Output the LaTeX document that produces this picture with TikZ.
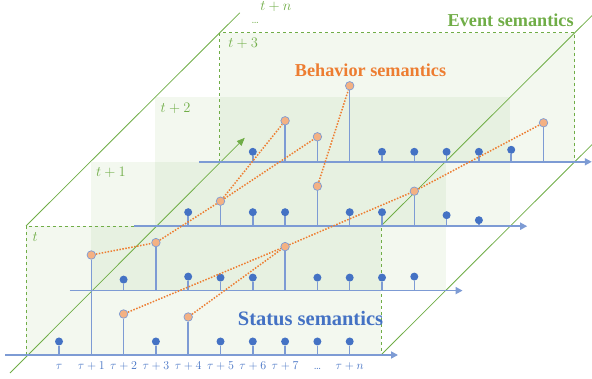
\RequirePackage{fix-cm}
\documentclass[tikz,border=0pt]{standalone}
\usepackage{amsmath,amssymb}
\usepackage{fontspec}
\newfontfamily\semfont{Liberation Serif}
\usetikzlibrary{positioning,arrows.meta,calc}
\definecolor{evgreen}{RGB}{112,173,71}
\definecolor{stblue}{RGB}{68,114,196}
\definecolor{axblue}{RGB}{125,155,212}
\definecolor{bhorange}{RGB}{237,125,49}
\definecolor{bhfill}{RGB}{244,177,131}
\tikzset{
  >=Stealth,
}

\begin{document}
\begin{tikzpicture}[
  x=1pt,y=-1pt,
  plane/.style={fill=evgreen, fill opacity=0.085},
  frame/.style={draw=evgreen, dashed, line width=0.8pt},
  slant/.style={draw=evgreen, line width=0.8pt},
  axis/.style={draw=axblue, line width=1.7pt, -{Triangle[length=7pt,width=7pt]}},
  stem/.style={draw=axblue, line width=1.5pt},
  bdot/.style={circle, fill=stblue, inner sep=0pt, minimum size=8pt},
  odot/.style={circle, fill=bhfill, draw=axblue, line width=0.7pt, inner sep=0pt, minimum size=8.5pt},
  link/.style={draw=bhorange, line width=1.5pt, dash pattern=on 1.5pt off 1.5pt},
  lay/.style={text=evgreen, font=\fontsize{14.5}{17}\selectfont, anchor=west},
  tick/.style={text=stblue, font=\fontsize{12}{14}\selectfont, anchor=base},
  sem/.style={font=\semfont\bfseries\fontsize{18.2}{20}\selectfont, inner sep=0pt}
]
\useasboundingbox (0,0) rectangle (592,379);

% planes t ... t+3
\foreach \i in {0,...,3} {
  \coordinate (ll\i) at (26+64.6*\i, 355-64.4*\i);
  \coordinate (ul\i) at ($(ll\i)+(0,-129)$);
  \coordinate (ur\i) at ($(ll\i)+(355,-129)$);
  \coordinate (lr\i) at ($(ll\i)+(355,0)$);
}
\foreach \i in {3,2,1,0}
  \fill[plane] (ll\i) rectangle (ur\i);

% time direction
\coordinate (ulend) at ($(ul3)+(20,-20)$);
\coordinate (urend) at ($(ur3)+(20,-20)$);
\coordinate (lrend) at ($(lr3)+(20,-20)$);
\coordinate (tstart) at ($(ll0)+(-16,18)$);
\coordinate (tend) at ($(ll3)+(25,-24)$);
\draw[slant] (ul0) -- (ulend);
\draw[slant] (ur0) -- (urend);
\draw[slant] (lr0) -- (lrend);
\draw[slant, -{Triangle[length=8pt,width=6.5pt]}] (tstart) -- (tend);

\draw[frame] (ll0) -- (ul0) -- (ur0) -- (lr0);
\draw[frame] (ll3) -- (ul3) -- (ur3) -- (lr3);

% axes
\foreach \i in {0,...,3} {
  \coordinate (as\i) at ($(ll\i)+(-21,0)$);
  \coordinate (ae\i) at ($(lr\i)+(17,0)$);
  \draw[axis] (as\i) -- (ae\i);
}

% status stems
\foreach \i/\k/\h in {0/0/13.5, 0/3/13.5, 0/5/13.5, 0/6/13.5, 0/7/13.5, 0/8/13.5, 0/9/13.5,
    1/0/11, 1/2/14, 1/3/13, 1/4/13, 1/6/13, 1/7/13, 1/8/13, 1/9/14,
    2/0/14, 2/2/14, 2/3/14, 2/5/14, 2/6/14, 2/8/11, 2/9/6,
    3/0/10, 3/4/10, 3/5/10, 3/6/10, 3/7/10, 3/8/12} {
  \coordinate (s\i-\k) at ($(ll\i)+(33+32.3*\k,0)$);
  \node[bdot] (d\i-\k) at ($(s\i-\k)+(0,-\h)$) {};
  \draw[stem] (s\i-\k) -- (d\i-\k);
}

% behavior stems
\foreach \i/\k/\h in {0/1/100, 0/2/41, 0/4/38, 1/1/48, 1/5/44,
    2/1/25, 2/4/40, 2/7/35, 3/1/41, 3/2/25, 3/3/76, 3/9/39} {
  \coordinate (s\i-\k) at ($(ll\i)+(33+32.3*\k,0)$);
  \node[odot] (o\i-\k) at ($(s\i-\k)+(0,-\h)$) {};
  \draw[stem] (s\i-\k) -- (o\i-\k);
}

\draw[link] (o0-1) -- (o1-1) -- (o2-1) -- (o3-1);
\draw[link] (o2-1) -- (o3-2);
\draw[link] (o0-2) -- (o1-5);
\draw[link] (o0-4) -- (o1-5) -- (o2-7) -- (o3-9);
\draw[link] (o2-4) -- (o3-3);

% labels
\foreach \k/\lab in {0/$\tau$, 1/$\tau+1$, 2/$\tau+2$, 3/$\tau+3$, 4/$\tau+4$,
    5/$\tau+5$, 6/$\tau+6$, 7/$\tau+7$, 8/\ldots, 9/$\tau+n$}
  \node[tick] (tk\k) at ($(s0-\k)+(0,14.5)$) {\lab};

\node[lay] (lt0) at ($(ul0)+(3,11)$) {$t$};
\node[lay] (lt1) at ($(ul1)+(2,11)$) {$t+1$};
\node[lay] (lt2) at ($(ul2)+(2,11)$) {$t+2$};
\node[lay] (lt3) at ($(ul3)+(5,11)$) {$t+3$};
\node[lay, anchor=base west] (ldots) at ($(ul3)+(28,-9)$) {\fontsize{12}{14}\selectfont\ldots};
\node[lay] (ltn) at ($(ul3)+(37,-26)$) {$t+n$};

\node[sem, text=evgreen, anchor=base east] (ev) at ($(ur3)+(-1,-6)$) {Event semantics};
\node[sem, text=bhorange, anchor=base] (bh) at (370.5,77) {Behavior semantics};
\node[sem, text=stblue, anchor=base, font=\semfont\bfseries\fontsize{20.5}{22}\selectfont] (st) at (310.5,326) {Status semantics};
\end{tikzpicture}
\end{document}
